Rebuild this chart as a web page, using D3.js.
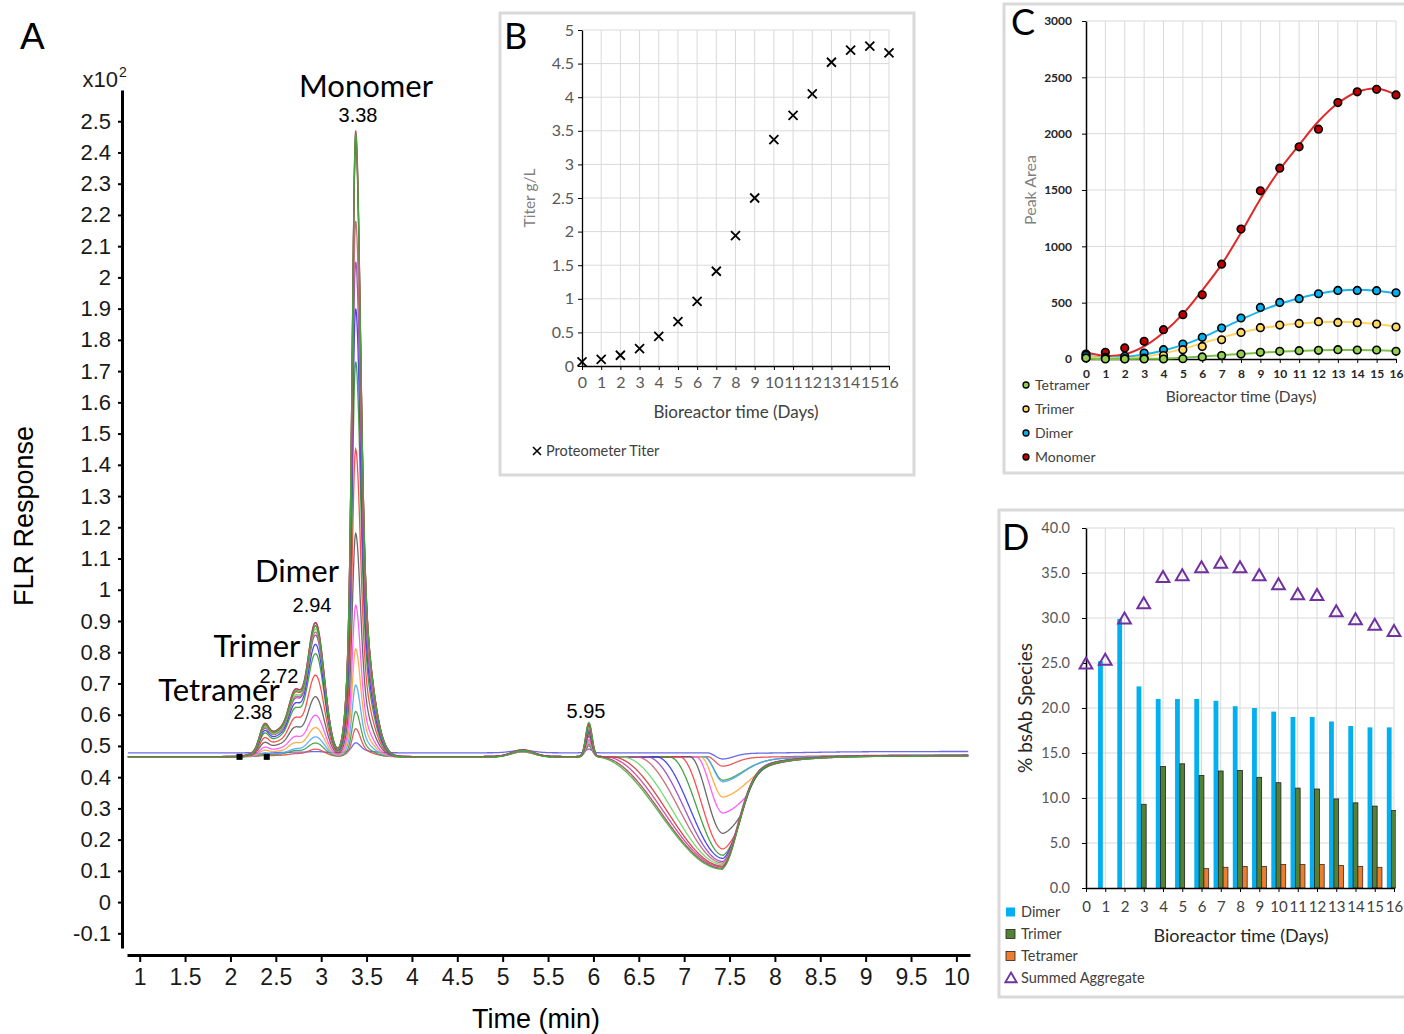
<!DOCTYPE html>
<html>
<head>
<meta charset="utf-8">
<script src="https://cdn.jsdelivr.net/npm/d3@7"></script>
<style>
  body { margin: 0; background: #fff; }
  svg { display: block; }
  .xl { font-family: Lato, "Open Sans", sans-serif; }
  .ar { font-family: "Liberation Sans", Arial, sans-serif; }
  .nar { font-family: "Liberation Sans Narrow", "Liberation Sans", Arial, sans-serif; }
</style>
</head>
<body>
<script>
// ---------- Panel A: chromatogram traces, one per bioreactor day (FLR x10^2) ----------
const traceDays = [0, 1, 2, 3, 4, 5, 6, 7, 8, 9, 10, 11, 12, 13, 14, 15, 16];
const traceColors = ["#5a5ae6", "#e84848", "#3f9f3f", "#4ea6ff", "#ffa436", "#ff4cff", "#5a5a5a", "#ff3a3a",
                     "#2f9a2f", "#3434f0", "#9444c4", "#c0606e", "#66d866", "#d23434", "#c2409e", "#b03c4c", "#3cae3c"];
const traceBase    = [0.478, 0.466, 0.465, 0.466, 0.465, 0.465, 0.466, 0.465, 0.464, 0.465, 0.466, 0.465, 0.464, 0.465, 0.466, 0.465, 0.464];
const tetramerApex = [0.47, 0.468, 0.472, 0.478, 0.485, 0.495, 0.51, 0.525, 0.54, 0.548, 0.555, 0.558, 0.56, 0.565, 0.57, 0.57, 0.568];
const trimerApex   = [0.48, 0.475, 0.485, 0.49, 0.51, 0.53, 0.56, 0.59, 0.62, 0.635, 0.65, 0.655, 0.66, 0.67, 0.68, 0.68, 0.675];
const dimerApex    = [0.482, 0.49, 0.51, 0.53, 0.56, 0.60, 0.66, 0.73, 0.80, 0.83, 0.86, 0.87, 0.88, 0.89, 0.90, 0.90, 0.89];
const monomerApex  = [0.51, 0.555, 0.61, 0.695, 0.81, 0.95, 1.18, 1.45, 1.73, 1.90, 2.05, 2.18, 2.42, 2.44, 2.45, 2.47, 2.46];
const bump52       = [0.008, 0.015, 0.016, 0.017, 0.018, 0.018, 0.019, 0.019, 0.02, 0.02, 0.02, 0.021, 0.021, 0.021, 0.022, 0.022, 0.022];
const peak595Apex  = [0.49, 0.50, 0.505, 0.51, 0.515, 0.52, 0.53, 0.535, 0.54, 0.545, 0.55, 0.555, 0.56, 0.565, 0.57, 0.572, 0.575];
const dipMin       = [0.458, 0.435, 0.39, 0.385, 0.336, 0.285, 0.22, 0.17, 0.15, 0.14, 0.13, 0.125, 0.12, 0.115, 0.112, 0.108, 0.105];
const dipStart     = [7.25, 7.25, 7.22, 7.22, 7.18, 7.13, 7.06, 6.95, 6.84, 6.69, 6.58, 6.47, 6.32, 6.2, 6.12, 6.06, 6.03];
const dipRight     = [0.7, 0.8, 1.3, 1.3, 1.6, 1.8, 1.6, 1.4, 1.2, 1.1, 1, 1, 1, 1, 1, 1, 1];
const integrationMarks = [2.10, 2.40];

const xTicksA = [1, 1.5, 2, 2.5, 3, 3.5, 4, 4.5, 5, 5.5, 6, 6.5, 7, 7.5, 8, 8.5, 9, 9.5, 10];
const yTicksA = [-0.1, 0, 0.1, 0.2, 0.3, 0.4, 0.5, 0.6, 0.7, 0.8, 0.9, 1, 1.1, 1.2, 1.3, 1.4, 1.5, 1.6, 1.7, 1.8,
                 1.9, 2, 2.1, 2.2, 2.3, 2.4, 2.5];
const peakLabels = [
  { name: "Monomer", rt: "3.38", x: 366, y: 97, rx: 358, ry: 122 },
  { name: "Dimer", rt: "2.94", x: 297, y: 582, rx: 312, ry: 612 },
  { name: "Trimer", rt: "2.72", x: 257, y: 657, rx: 279, ry: 683 },
  { name: "Tetramer", rt: "2.38", x: 219, y: 701, rx: 253, ry: 719 }
];

// ---------- Panel B: titer ----------
const days = [0, 1, 2, 3, 4, 5, 6, 7, 8, 9, 10, 11, 12, 13, 14, 15, 16];
const titer = [0.06, 0.10, 0.16, 0.26, 0.44, 0.66, 0.96, 1.41, 1.94, 2.50, 3.37, 3.73, 4.05, 4.52, 4.70, 4.76, 4.66];
const yTicksB = [0, 0.5, 1, 1.5, 2, 2.5, 3, 3.5, 4, 4.5, 5];

// ---------- Panel C: peak areas ----------
const monomerArea  = [44, 59, 98, 157, 260, 393, 570, 842, 1153, 1493, 1694, 1883, 2040, 2276, 2371, 2394, 2344];
const monomerFit   = [60, 28, 42, 112, 235, 400, 610, 840, 1120, 1420, 1680, 1900, 2110, 2270, 2370, 2400, 2345];
const dimerArea    = [30, 15, 24, 53, 83, 133, 192, 275, 364, 458, 502, 535, 579, 609, 609, 606, 588];
const dimerFit     = [30, 15, 18, 40, 75, 125, 190, 270, 350, 425, 490, 540, 580, 605, 615, 605, 580];
const trimerArea   = [9, 9, 3, 9, 30, 83, 112, 171, 236, 278, 301, 316, 331, 325, 322, 310, 284];
const trimerFit    = [20, 8, 5, 20, 50, 90, 140, 190, 235, 270, 298, 315, 327, 330, 325, 310, 285];
const tetramerArea = [9, 0, 0, 0, 0, 3, 18, 30, 44, 59, 68, 74, 77, 83, 80, 80, 68];
const tetramerFit  = [2, 0, 0, 2, 5, 12, 22, 33, 45, 56, 65, 72, 77, 80, 80, 78, 72];
const yTicksC = [0, 500, 1000, 1500, 2000, 2500, 3000];

// ---------- Panel D: % species ----------
const dimerPct    = [24.8, 25.2, 29.9, 22.4, 21.0, 21.0, 21.0, 20.8, 20.2, 20.0, 19.6, 19.0, 19.0, 18.5, 18.0, 17.85, 17.85];
const trimerPct   = [0, 0, 0, 9.3, 13.5, 13.8, 12.5, 13.0, 13.06, 12.3, 11.7, 11.1, 11.0, 9.9, 9.46, 9.1, 8.6];
const tetramerPct = [0, 0, 0, 0, 0, 0, 2.15, 2.3, 2.4, 2.4, 2.6, 2.6, 2.6, 2.5, 2.4, 2.3, 2.2];
const summedAgg   = [24.8, 25.2, 29.8, 31.5, 34.4, 34.6, 35.5, 36.0, 35.5, 34.6, 33.6, 32.5, 32.4, 30.6, 29.7, 29.1, 28.4];
const yTicksD = [0, 5, 10, 15, 20, 25, 30, 35, 40];

const svg = d3.select("body").append("svg").attr("width", 1404).attr("height", 1034);

// ================= Panel A =================
function drawPanelA() {
  const xA = d3.scaleLinear().domain([0.86, 10.15]).range([127, 970]);
  const yA = d3.scaleLinear().domain([-0.147, 2.6]).range([948, 90]);
  const g = svg.append("g").attr("id", "panelA");

  const gauss = (t, c, s) => Math.exp(-((t - c) ** 2) / (2 * s * s));
  const agauss = (t, c, sl, sr) => gauss(t, c, t < c ? sl : sr);
  const dipC = 7.43, dipEnv = 0.36;
  const rightShape = d => 0.75 * Math.exp(-(d * d) / (2 * 0.17 * 0.17)) + 0.25 * Math.exp(-d / 0.4);

  function traceValue(i, t) {
    const b = traceBase[i];
    let v = b;
    v += 0.6 * (tetramerApex[i] - b) * gauss(t, 2.37, 0.05);
    v += 0.42 * (trimerApex[i] - b) * gauss(t, 2.58, 0.17);
    v += 0.585 * (trimerApex[i] - b) * gauss(t, 2.71, 0.065);
    v += 0.965 * (dimerApex[i] - b) * gauss(t, 2.94, 0.095);
    const am = monomerApex[i] - b;
    v += am * (0.7 * agauss(t, 3.38, 0.035, 0.05) + 0.3 * agauss(t, 3.38, 0.07, 0.14));
    v += bump52[i] * gauss(t, 5.22, 0.12);
    v += (peak595Apex[i] - b) * gauss(t, 5.95, 0.035);
    // negative system peak
    const d = b - dipMin[i];
    let dip = 0;
    if (t >= dipStart[i] && t < dipC) {
      const u = (t - dipStart[i]) / (dipC - dipStart[i]);
      dip = d * Math.sin(Math.PI * u / 2) ** 2;
    } else if (t >= dipC) {
      const dt = t - dipC;
      const own = d * rightShape(dt / dipRight[i]);
      const env = dipEnv * rightShape(dt);
      const k = 0.006;
      dip = -k * Math.log(Math.exp(-own / k) + Math.exp(-env / k));
    }
    return v - dip;
  }

  const times = d3.range(0.87, 10.13, 0.005);
  const line = d3.line().x(d => xA(d[0])).y(d => yA(d[1]));

  const traces = g.append("g").attr("id", "traces");
  traceDays.forEach((day, i) => {
    traces.append("path")
      .datum(times.map(t => [t, traceValue(i, t)]))
      .attr("fill", "none")
      .attr("stroke", traceColors[i])
      .attr("stroke-width", 1.3)
      .attr("stroke-opacity", 0.9)
      .attr("d", line);
  });

  // integration markers on the baseline
  g.selectAll(".mark").data(integrationMarks).join("rect")
    .attr("x", d => xA(d) - 3).attr("y", yA(0.465) - 3)
    .attr("width", 6).attr("height", 6).attr("fill", "#000");

  // axes
  const yAxis = g.append("g").attr("class", "ar")
    .attr("transform", "translate(122,0)")
    .call(d3.axisLeft(yA).tickValues(yTicksA).tickSize(4).tickSizeOuter(0).tickPadding(7).tickFormat(d => String(d)));
  yAxis.select(".domain").attr("stroke-width", 3);
  yAxis.selectAll(".tick line").attr("stroke-width", 2);
  yAxis.selectAll("text").attr("font-size", 22).attr("fill", "#1a1a1a");

  const xAxis = g.append("g").attr("class", "nar")
    .attr("transform", "translate(0,955)")
    .call(d3.axisBottom(xA).tickValues(xTicksA).tickSize(7).tickSizeOuter(0).tickPadding(7).tickFormat(d => String(d)));
  xAxis.select(".domain").attr("stroke-width", 3);
  xAxis.selectAll(".tick line").attr("stroke-width", 2);
  xAxis.selectAll("text").attr("font-size", 23).attr("fill", "#1a1a1a");

  g.append("text").attr("class", "ar").attr("x", 118).attr("y", 87).attr("text-anchor", "end")
    .attr("font-size", 22).attr("fill", "#1a1a1a").text("x10");
  g.append("text").attr("class", "ar").attr("x", 119).attr("y", 77)
    .attr("font-size", 14).attr("fill", "#1a1a1a").text("2");

  g.append("text").attr("class", "ar").attr("x", 20).attr("y", 49)
    .attr("font-size", 37).attr("fill", "#000").text("A");

  g.append("text").attr("class", "ar")
    .attr("transform", "translate(33,516) rotate(-90)")
    .attr("text-anchor", "middle").attr("font-size", 27).attr("fill", "#000")
    .text("FLR Response");
  g.append("text").attr("class", "nar").attr("x", 536).attr("y", 1028)
    .attr("text-anchor", "middle").attr("font-size", 27).attr("fill", "#000")
    .text("Time (min)");

  peakLabels.forEach(p => {
    g.append("text").attr("class", "xl").attr("x", p.x).attr("y", p.y)
      .attr("text-anchor", "middle").attr("font-size", 31).attr("fill", "#000").text(p.name);
    g.append("text").attr("class", "ar").attr("x", p.rx).attr("y", p.ry)
      .attr("text-anchor", "middle").attr("font-size", 20).attr("fill", "#000").text(p.rt);
  });
  g.append("text").attr("class", "ar").attr("x", 586).attr("y", 718)
    .attr("text-anchor", "middle").attr("font-size", 20).attr("fill", "#000").text("5.95");
}

// ================= Panel B =================
function drawPanelB() {
  const g = svg.append("g").attr("id", "panelB");
  const xB = d3.scaleLinear().domain([0, 16]).range([582, 889]);
  const yB = d3.scaleLinear().domain([0, 5]).range([366, 30]);

  g.append("rect").attr("x", 500).attr("y", 13).attr("width", 414).attr("height", 462)
    .attr("fill", "#fff").attr("stroke", "#d9d9d9").attr("stroke-width", 3);

  const grid = g.append("g").attr("stroke", "#d9d9d9").attr("stroke-width", 1);
  grid.selectAll(".h").data(yTicksB.slice(1)).join("line")
    .attr("x1", xB(0)).attr("x2", xB(16)).attr("y1", d => yB(d)).attr("y2", d => yB(d));
  grid.selectAll(".v").data(days.slice(1)).join("line")
    .attr("x1", d => xB(d)).attr("x2", d => xB(d)).attr("y1", yB(5)).attr("y2", yB(0));

  const ya = g.append("g").attr("class", "xl").attr("transform", `translate(${xB(0)},0)`)
    .call(d3.axisLeft(yB).tickValues(yTicksB).tickSize(4).tickSizeOuter(0).tickPadding(4).tickFormat(d => String(d)));
  const xa = g.append("g").attr("class", "xl").attr("transform", `translate(0,${yB(0)})`)
    .call(d3.axisBottom(xB).tickValues(days).tickSize(4).tickSizeOuter(0).tickPadding(7));
  [ya, xa].forEach(a => {
    a.select(".domain").attr("stroke", "#000").attr("stroke-width", 1.3);
    a.selectAll(".tick line").attr("stroke", "#000");
    a.selectAll("text").attr("font-size", 16).attr("fill", "#595959");
  });

  const cross = "M-4.5,-4.5L4.5,4.5M4.5,-4.5L-4.5,4.5";
  g.selectAll(".pt").data(days).join("path")
    .attr("transform", d => `translate(${xB(d)},${yB(titer[d])})`)
    .attr("d", cross).attr("stroke", "#000").attr("stroke-width", 1.8).attr("fill", "none");

  g.append("text").attr("class", "xl").attr("x", 504).attr("y", 49)
    .attr("font-size", 36).attr("fill", "#000").text("B");
  g.append("text").attr("class", "xl").attr("transform", "translate(535,198) rotate(-90)")
    .attr("text-anchor", "middle").attr("font-size", 15.5).attr("fill", "#7f7f7f").text("Titer g/L");
  g.append("text").attr("class", "xl").attr("x", 736).attr("y", 418)
    .attr("text-anchor", "middle").attr("font-size", 17).attr("fill", "#404040").text("Bioreactor time (Days)");
  g.append("path").attr("transform", "translate(537,451)")
    .attr("d", "M-4,-4L4,4M4,-4L-4,4").attr("stroke", "#000").attr("stroke-width", 1.6);
  g.append("text").attr("class", "xl").attr("x", 546).attr("y", 456)
    .attr("font-size", 14.5).attr("fill", "#404040").text("Proteometer Titer");
}

// ================= Panel C =================
function drawPanelC() {
  const g = svg.append("g").attr("id", "panelC");
  const xC = d3.scaleLinear().domain([0, 16]).range([1086, 1396]);
  const yC = d3.scaleLinear().domain([0, 3000]).range([359, 21]);

  g.append("rect").attr("x", 1004).attr("y", 4).attr("width", 420).attr("height", 469)
    .attr("fill", "#fff").attr("stroke", "#d9d9d9").attr("stroke-width", 3);

  const grid = g.append("g").attr("stroke", "#d9d9d9").attr("stroke-width", 1);
  grid.selectAll(".h").data(yTicksC.slice(1)).join("line")
    .attr("x1", xC(0)).attr("x2", xC(16)).attr("y1", d => yC(d)).attr("y2", d => yC(d));
  grid.selectAll(".v").data(days.slice(1)).join("line")
    .attr("x1", d => xC(d)).attr("x2", d => xC(d)).attr("y1", yC(3000)).attr("y2", yC(0));

  const ya = g.append("g").attr("class", "xl").attr("transform", `translate(${xC(0)},0)`)
    .call(d3.axisLeft(yC).tickValues(yTicksC).tickSize(4).tickSizeOuter(0).tickPadding(10).tickFormat(d3.format("d")));
  const xa = g.append("g").attr("class", "xl").attr("transform", `translate(0,${yC(0)})`)
    .call(d3.axisBottom(xC).tickValues(days).tickSize(4).tickSizeOuter(0).tickPadding(6));
  [ya, xa].forEach(a => {
    a.select(".domain").attr("stroke", "#000").attr("stroke-width", 1.5);
    a.selectAll(".tick line").attr("stroke", "#000");
    a.selectAll("text").attr("font-size", 12).attr("font-weight", 700).attr("fill", "#262626");
  });

  const series = [
    { name: "Monomer", pts: monomerArea, fit: monomerFit, fill: "#c00000", line: "#e02828" },
    { name: "Dimer", pts: dimerArea, fit: dimerFit, fill: "#00b0f0", line: "#18b4ee" },
    { name: "Trimer", pts: trimerArea, fit: trimerFit, fill: "#ffd966", line: "#ffd35c" },
    { name: "Tetramer", pts: tetramerArea, fit: tetramerFit, fill: "#92d050", line: "#7cc246" }
  ];
  const line = d3.line().x((d, i) => xC(i)).y(d => yC(d)).curve(d3.curveCatmullRom.alpha(0.5));
  series.forEach(s => {
    g.append("path").datum(s.fit).attr("fill", "none").attr("stroke", s.line)
      .attr("stroke-width", 2).attr("d", line);
  });
  series.forEach(s => {
    g.append("g").selectAll("circle").data(s.pts).join("circle")
      .attr("cx", (d, i) => xC(i)).attr("cy", d => yC(d)).attr("r", 3.8)
      .attr("fill", s.fill).attr("stroke", "#000").attr("stroke-width", 1.6);
  });

  g.append("text").attr("class", "xl").attr("x", 1011).attr("y", 35)
    .attr("font-size", 36).attr("fill", "#000").text("C");
  g.append("text").attr("class", "xl").attr("transform", "translate(1036,190) rotate(-90)")
    .attr("text-anchor", "middle").attr("font-size", 16).attr("fill", "#7f7f7f").text("Peak Area");
  g.append("text").attr("class", "xl").attr("x", 1241).attr("y", 402)
    .attr("text-anchor", "middle").attr("font-size", 15.5).attr("fill", "#404040").text("Bioreactor time (Days)");

  const legend = series.slice().reverse();
  legend.forEach((s, k) => {
    const y = 385 + k * 24;
    g.append("circle").attr("cx", 1026).attr("cy", y).attr("r", 3)
      .attr("fill", s.fill).attr("stroke", "#000").attr("stroke-width", 1.3);
    g.append("text").attr("class", "xl").attr("x", 1035).attr("y", y + 5)
      .attr("font-size", 14).attr("fill", "#404040").text(s.name);
  });
}

// ================= Panel D =================
function drawPanelD() {
  const g = svg.append("g").attr("id", "panelD");
  const xD = d3.scaleLinear().domain([0, 16]).range([1086, 1394]);
  const yD = d3.scaleLinear().domain([0, 40]).range([888, 528]);
  const bars = [
    { name: "Dimer", vals: dimerPct, fill: "#00b0f0", stroke: "none" },
    { name: "Trimer", vals: trimerPct, fill: "#548235", stroke: "#1e1e1e" },
    { name: "Tetramer", vals: tetramerPct, fill: "#ed7d31", stroke: "#3a2a20" }
  ];
  const band = d3.scaleBand().domain(bars.map(b => b.name)).range([-7.2, 7.2]);

  g.append("rect").attr("x", 999).attr("y", 510).attr("width", 430).attr("height", 487)
    .attr("fill", "#fff").attr("stroke", "#d9d9d9").attr("stroke-width", 3);

  const grid = g.append("g").attr("stroke", "#d9d9d9").attr("stroke-width", 1);
  grid.selectAll(".h").data(yTicksD.slice(1)).join("line")
    .attr("x1", xD(0)).attr("x2", xD(16)).attr("y1", d => yD(d)).attr("y2", d => yD(d));
  grid.selectAll(".v").data(days.slice(1)).join("line")
    .attr("x1", d => xD(d)).attr("x2", d => xD(d)).attr("y1", yD(40)).attr("y2", yD(0));

  svg.append("clipPath").attr("id", "clipD").append("rect")
    .attr("x", xD(0)).attr("y", 500).attr("width", xD(16) - xD(0) + 2).attr("height", 400);
  const barG = g.append("g").attr("clip-path", "url(#clipD)");
  bars.forEach(b => {
    barG.append("g").selectAll("rect").data(days.filter(d => b.vals[d] > 0)).join("rect")
      .attr("x", d => xD(d) + band(b.name)).attr("width", band.bandwidth())
      .attr("y", d => yD(b.vals[d])).attr("height", d => yD(0) - yD(b.vals[d]))
      .attr("fill", b.fill).attr("stroke", b.stroke).attr("stroke-width", 0.8);
  });

  const ya = g.append("g").attr("class", "xl").attr("transform", `translate(${xD(0)},0)`)
    .call(d3.axisLeft(yD).tickValues(yTicksD).tickSize(4).tickSizeOuter(0).tickPadding(12).tickFormat(d3.format(".1f")));
  const xa = g.append("g").attr("class", "xl").attr("transform", `translate(0,${yD(0)})`)
    .call(d3.axisBottom(xD).tickValues(days).tickSize(4).tickSizeOuter(0).tickPadding(9));
  [ya, xa].forEach(a => {
    a.select(".domain").attr("stroke", "#000").attr("stroke-width", 1.5);
    a.selectAll(".tick line").attr("stroke", "#000");
  });
  ya.selectAll("text").attr("font-size", 14.5).attr("fill", "#595959");
  xa.selectAll("text").attr("font-size", 15).attr("fill", "#404040");

  const tri = d3.symbol().type(d3.symbolTriangle).size(70);
  g.append("g").selectAll("path").data(days).join("path")
    .attr("transform", d => `translate(${xD(d)},${yD(summedAgg[d])})`)
    .attr("d", tri).attr("fill", "none").attr("stroke", "#7030a0").attr("stroke-width", 2);

  g.append("text").attr("class", "xl").attr("x", 1002).attr("y", 550)
    .attr("font-size", 36).attr("fill", "#000").text("D");
  g.append("text").attr("class", "xl").attr("transform", "translate(1032,708) rotate(-90)")
    .attr("text-anchor", "middle").attr("font-size", 19).attr("fill", "#262626").text("% bsAb Species");
  g.append("text").attr("class", "xl").attr("x", 1241).attr("y", 942)
    .attr("text-anchor", "middle").attr("font-size", 18).attr("fill", "#262626").text("Bioreactor time (Days)");

  const legendY = [912, 934, 956];
  bars.forEach((b, k) => {
    g.append("rect").attr("x", 1006).attr("y", legendY[k] - 4.5).attr("width", 9).attr("height", 9)
      .attr("fill", b.fill).attr("stroke", b.stroke === "none" ? "none" : "#222").attr("stroke-width", 0.8);
    g.append("text").attr("class", "xl").attr("x", 1021).attr("y", legendY[k] + 5)
      .attr("font-size", 14.5).attr("fill", "#404040").text(b.name);
  });
  g.append("path").attr("transform", "translate(1011,979)")
    .attr("d", d3.symbol().type(d3.symbolTriangle).size(55)).attr("fill", "none")
    .attr("stroke", "#7030a0").attr("stroke-width", 1.8);
  g.append("text").attr("class", "xl").attr("x", 1021).attr("y", 983)
    .attr("font-size", 14.5).attr("fill", "#404040").text("Summed Aggregate");
}

drawPanelA();
drawPanelB();
drawPanelC();
drawPanelD();
</script>
</body>
</html>
